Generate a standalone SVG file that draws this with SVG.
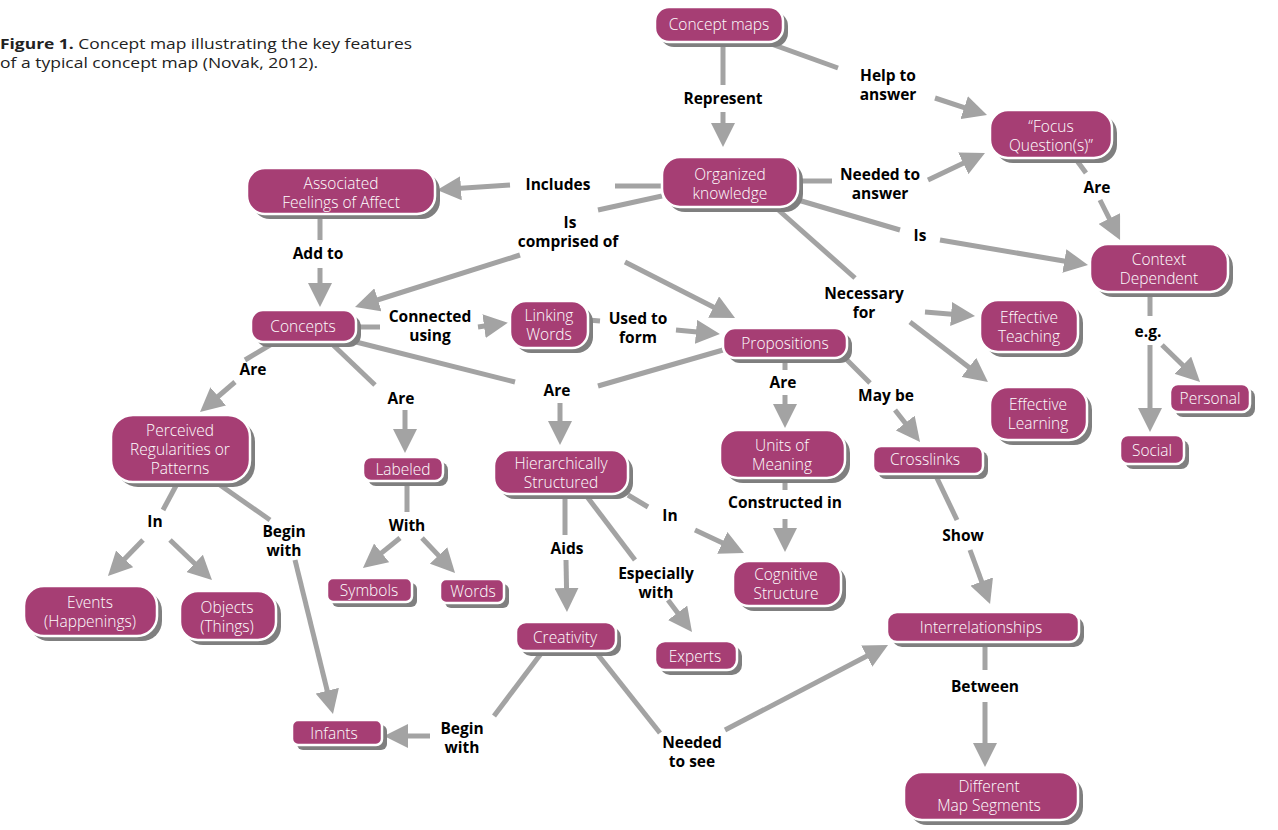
<svg xmlns="http://www.w3.org/2000/svg" width="1278" height="830" viewBox="0 0 1278 830">
<style>
.n rect.s{fill:#7f7f7f}
.n rect.b{fill:#a63e74;stroke:#ffffff;stroke-width:2.5}
.n text{fill:#ffffff;font-family:"Open Sans","Liberation Sans",sans-serif;font-weight:300;font-size:15.5px;text-anchor:middle;dominant-baseline:central}
.c path{fill:none;stroke:#a3a3a3;stroke-width:5}
.c path.a{marker-end:url(#ah)}
.l text{fill:#000;font-family:"Open Sans","Liberation Sans",sans-serif;font-weight:700;font-size:15.5px;text-anchor:middle;dominant-baseline:central}
.cap{font-family:"Open Sans","Liberation Sans",sans-serif;font-size:15px;fill:#222}
</style>
<defs>
<marker id="ah" markerUnits="userSpaceOnUse" markerWidth="24" markerHeight="24" refX="4" refY="12" orient="auto">
<path d="M0,0 L24,12 L0,24 z" fill="#a3a3a3"/>
</marker>
</defs>
<rect width="1278" height="830" fill="#ffffff"/>
<text class="cap" x="0" y="49" textLength="412" lengthAdjust="spacingAndGlyphs"><tspan font-weight="700">Figure 1.</tspan> Concept map illustrating the key features</text>
<text class="cap" x="0" y="68" textLength="318" lengthAdjust="spacingAndGlyphs">of a typical concept map (Novak, 2012).</text>

<g id="connectors" class="c">
<path d="M723,42 L723,85"/>
<path class="a" d="M723,112 L723,127"/>
<path d="M760,40 L838,68"/>
<path class="a" d="M935,98 L968,108.8"/>
<path d="M798,181 L832,181"/>
<path class="a" d="M928,180 L966.9,161.6"/>
<path d="M662,186 L615,186"/>
<path class="a" d="M510,185 L457,188.6"/>
<path d="M662,196 L598,210"/>
<path class="a" d="M520,255 L374.1,301"/>
<path class="a" d="M625,262 L717.2,308.9"/>
<path d="M798,200 L900,230"/>
<path class="a" d="M940,240 L1068.3,261.7"/>
<path d="M775,207 L855,278"/>
<path class="a" d="M925,312 L955.1,314.4"/>
<path class="a" d="M910,322 L972.1,369.8"/>
<path d="M1075,158 L1086,173"/>
<path class="a" d="M1100,200 L1111.1,222.1"/>
<path d="M1150,292 L1150,316"/>
<path class="a" d="M1150,345 L1150,412"/>
<path class="a" d="M1162,345 L1185.7,368"/>
<path d="M320,214 L320,240"/>
<path class="a" d="M320,268 L320,287"/>
<path d="M356,327 L380,327"/>
<path class="a" d="M478,327 L488,325.6"/>
<path d="M588,320 L600,321"/>
<path class="a" d="M676,330 L700,332.2"/>
<path d="M356,342 L515,382"/>
<path d="M723,350 L598,386"/>
<path class="a" d="M560,403 L560,425"/>
<path d="M275,342 L245,360"/>
<path class="a" d="M235,382 L215.2,399"/>
<path d="M330,342 L375,385"/>
<path class="a" d="M405,410 L405,433"/>
<path d="M785,358 L785,370"/>
<path class="a" d="M785,395 L785,408"/>
<path d="M845,358 L870,383"/>
<path class="a" d="M895,410 L907.7,426.2"/>
<path d="M178,482 L163,510"/>
<path class="a" d="M143,540 L121.9,561.7"/>
<path class="a" d="M170,540 L197.5,566.2"/>
<path d="M220,485 L270,520"/>
<path class="a" d="M295,560 L328.2,694.6"/>
<path d="M407,481 L407,512"/>
<path class="a" d="M400,538 L378.5,555.4"/>
<path class="a" d="M422,538 L441.3,558.4"/>
<path d="M565,494 L565,535"/>
<path class="a" d="M566,560 L566.6,592"/>
<path d="M585,494 L635,560"/>
<path class="a" d="M668,600 L680,616"/>
<path d="M628,495 L648,507"/>
<path class="a" d="M695,530 L725.9,544.5"/>
<path d="M785,478 L785,490"/>
<path class="a" d="M785,519 L785,532"/>
<path d="M935,474 L957,520"/>
<path class="a" d="M970,550 L983.1,585.3"/>
<path d="M543,651 L494,716"/>
<path class="a" d="M430,736 L404,736"/>
<path d="M595,651 L660,733"/>
<path class="a" d="M725,730 L870.3,654.2"/>
<path d="M985,642 L985,670"/>
<path class="a" d="M985,702 L985,747"/>
</g>

<g id="labels" class="l">
<text x="723" y="98">Represent</text>
<text x="888" y="74.5"><tspan x="888">Help to</tspan><tspan x="888" dy="19">answer</tspan></text>
<text x="880" y="173.5"><tspan x="880">Needed to</tspan><tspan x="880" dy="19">answer</tspan></text>
<text x="558" y="184">Includes</text>
<text x="569" y="222"><tspan x="570">Is</tspan><tspan x="568" dy="19">comprised of</tspan></text>
<text x="920" y="235">Is</text>
<text x="864" y="292.5"><tspan x="864">Necessary</tspan><tspan x="864" dy="19">for</tspan></text>
<text x="1097" y="187">Are</text>
<text x="1148" y="331">e.g.</text>
<text x="318" y="253">Add to</text>
<text x="430" y="315.5"><tspan x="430">Connected</tspan><tspan x="430" dy="19">using</tspan></text>
<text x="638" y="318"><tspan x="638">Used to</tspan><tspan x="638" dy="19">form</tspan></text>
<text x="557" y="390">Are</text>
<text x="253" y="369">Are</text>
<text x="401" y="398">Are</text>
<text x="783" y="382">Are</text>
<text x="886" y="395">May be</text>
<text x="155" y="521">In</text>
<text x="284" y="531"><tspan x="284">Begin</tspan><tspan x="284" dy="19">with</tspan></text>
<text x="407" y="525">With</text>
<text x="567" y="548">Aids</text>
<text x="656" y="572.5"><tspan x="656">Especially</tspan><tspan x="656" dy="19">with</tspan></text>
<text x="670" y="515">In</text>
<text x="785" y="502">Constructed in</text>
<text x="963" y="535">Show</text>
<text x="462" y="727.5"><tspan x="462">Begin</tspan><tspan x="462" dy="19">with</tspan></text>
<text x="692" y="741.5"><tspan x="692">Needed</tspan><tspan x="692" dy="19">to see</tspan></text>
<text x="985" y="686">Between</text>
</g>

<g id="concept_maps" class="n"><rect class="s" x="660" y="12" width="128" height="35" rx="14"/><rect class="b" x="655" y="7" width="128" height="35" rx="14"/><text x="719" y="24">Concept maps</text></g>
<g id="organized_knowledge" class="n"><rect class="s" x="667" y="162" width="136" height="50" rx="18"/><rect class="b" x="662" y="157" width="136" height="50" rx="18"/><text x="730" y="173.5"><tspan x="730">Organized</tspan><tspan x="730" dy="19">knowledge</tspan></text></g>
<g id="focus_questions" class="n"><rect class="s" x="995" y="115" width="122" height="48" rx="18"/><rect class="b" x="990" y="110" width="122" height="48" rx="18"/><text x="1051" y="125.5"><tspan x="1051">“Focus</tspan><tspan x="1051" dy="19">Question(s)”</tspan></text></g>
<g id="associated_feelings" class="n"><rect class="s" x="252" y="173" width="188" height="46" rx="18"/><rect class="b" x="247" y="168" width="188" height="46" rx="18"/><text x="341" y="183"><tspan x="341">Associated</tspan><tspan x="341" dy="19">Feelings of Affect</tspan></text></g>
<g id="context_dependent" class="n"><rect class="s" x="1095" y="249" width="138" height="48" rx="18"/><rect class="b" x="1090" y="244" width="138" height="48" rx="18"/><text x="1159" y="259"><tspan x="1159">Context</tspan><tspan x="1159" dy="19">Dependent</tspan></text></g>
<g id="concepts" class="n"><rect class="s" x="256" y="315" width="105" height="32" rx="12"/><rect class="b" x="251" y="310" width="105" height="32" rx="12"/><text x="303" y="326">Concepts</text></g>
<g id="linking_words" class="n"><rect class="s" x="515" y="306" width="78" height="47" rx="16"/><rect class="b" x="510" y="301" width="78" height="47" rx="16"/><text x="549" y="314.5"><tspan x="549">Linking</tspan><tspan x="549" dy="19">Words</tspan></text></g>
<g id="propositions" class="n"><rect class="s" x="728" y="333" width="124" height="30" rx="12"/><rect class="b" x="723" y="328" width="124" height="30" rx="12"/><text x="785" y="343">Propositions</text></g>
<g id="effective_teaching" class="n"><rect class="s" x="985" y="305" width="98" height="52" rx="18"/><rect class="b" x="980" y="300" width="98" height="52" rx="18"/><text x="1029" y="317"><tspan x="1029">Effective</tspan><tspan x="1029" dy="19">Teaching</tspan></text></g>
<g id="effective_learning" class="n"><rect class="s" x="995" y="392" width="97" height="53" rx="18"/><rect class="b" x="990" y="387" width="97" height="53" rx="18"/><text x="1038" y="404"><tspan x="1038">Effective</tspan><tspan x="1038" dy="19">Learning</tspan></text></g>
<g id="personal" class="n"><rect class="s" x="1175" y="389" width="80" height="28" rx="8"/><rect class="b" x="1170" y="384" width="80" height="28" rx="8"/><text x="1210" y="398">Personal</text></g>
<g id="social" class="n"><rect class="s" x="1125" y="440" width="64" height="29" rx="8"/><rect class="b" x="1120" y="435" width="64" height="29" rx="8"/><text x="1152" y="450">Social</text></g>
<g id="perceived_regularities" class="n"><rect class="s" x="116" y="420" width="139" height="67" rx="22"/><rect class="b" x="111" y="415" width="139" height="67" rx="22"/><text x="180" y="430"><tspan x="180">Perceived</tspan><tspan x="180" dy="19">Regularities or</tspan><tspan x="180" dy="19">Patterns</tspan></text></g>
<g id="labeled" class="n"><rect class="s" x="368" y="462" width="80" height="24" rx="8"/><rect class="b" x="363" y="457" width="80" height="24" rx="8"/><text x="403" y="469">Labeled</text></g>
<g id="hierarchically_structured" class="n"><rect class="s" x="499" y="455" width="134" height="44" rx="16"/><rect class="b" x="494" y="450" width="134" height="44" rx="16"/><text x="561" y="463"><tspan x="561">Hierarchically</tspan><tspan x="561" dy="19">Structured</tspan></text></g>
<g id="units_of_meaning" class="n"><rect class="s" x="725" y="435" width="125" height="48" rx="18"/><rect class="b" x="720" y="430" width="125" height="48" rx="18"/><text x="782" y="444.5"><tspan x="782">Units of</tspan><tspan x="782" dy="19">Meaning</tspan></text></g>
<g id="crosslinks" class="n"><rect class="s" x="878" y="451" width="110" height="28" rx="8"/><rect class="b" x="873" y="446" width="110" height="28" rx="8"/><text x="925" y="459">Crosslinks</text></g>
<g id="events" class="n"><rect class="s" x="29" y="591" width="133" height="50" rx="20"/><rect class="b" x="24" y="586" width="133" height="50" rx="20"/><text x="90" y="601.5"><tspan x="90">Events</tspan><tspan x="90" dy="19">(Happenings)</tspan></text></g>
<g id="objects" class="n"><rect class="s" x="185" y="596" width="96" height="49" rx="18"/><rect class="b" x="180" y="591" width="96" height="49" rx="18"/><text x="227" y="606.5"><tspan x="227">Objects</tspan><tspan x="227" dy="19">(Things)</tspan></text></g>
<g id="symbols" class="n"><rect class="s" x="332" y="583" width="85" height="24" rx="6"/><rect class="b" x="327" y="578" width="85" height="24" rx="6"/><text x="369" y="590">Symbols</text></g>
<g id="words" class="n"><rect class="s" x="445" y="584" width="64" height="24" rx="6"/><rect class="b" x="440" y="579" width="64" height="24" rx="6"/><text x="473" y="591">Words</text></g>
<g id="cognitive_structure" class="n"><rect class="s" x="738" y="566" width="108" height="45" rx="16"/><rect class="b" x="733" y="561" width="108" height="45" rx="16"/><text x="786" y="573.5"><tspan x="786">Cognitive</tspan><tspan x="786" dy="19">Structure</tspan></text></g>
<g id="creativity" class="n"><rect class="s" x="521" y="627" width="100" height="29" rx="10"/><rect class="b" x="516" y="622" width="100" height="29" rx="10"/><text x="565" y="637">Creativity</text></g>
<g id="experts" class="n"><rect class="s" x="660" y="646" width="82" height="29" rx="10"/><rect class="b" x="655" y="641" width="82" height="29" rx="10"/><text x="695" y="656">Experts</text></g>
<g id="interrelationships" class="n"><rect class="s" x="892" y="617" width="192" height="30" rx="10"/><rect class="b" x="887" y="612" width="192" height="30" rx="10"/><text x="981" y="627">Interrelationships</text></g>
<g id="infants" class="n"><rect class="s" x="297" y="725" width="90" height="25" rx="6"/><rect class="b" x="292" y="720" width="90" height="25" rx="6"/><text x="334" y="733">Infants</text></g>
<g id="different_map_segments" class="n"><rect class="s" x="909" y="777" width="174" height="48" rx="18"/><rect class="b" x="904" y="772" width="174" height="48" rx="18"/><text x="989" y="786"><tspan x="989">Different</tspan><tspan x="989" dy="19">Map Segments</tspan></text></g>
</svg>
